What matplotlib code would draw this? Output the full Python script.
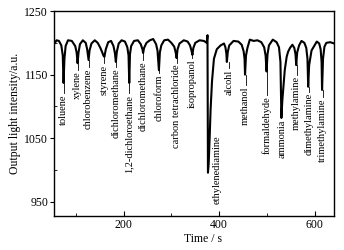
import matplotlib
matplotlib.use("Agg")
import matplotlib.pyplot as plt
from matplotlib.ticker import MultipleLocator

plt.rcParams['font.family'] = ['Liberation Serif', 'DejaVu Serif']

# sensor trace (time in s, intensity in a.u.)
time = [55, 60, 65, 70, 73, 74.7, 76.5, 79, 84, 92, 99, 102, 104, 106, 109, 115,
        121, 124, 127, 129, 133, 140, 146, 151, 155, 158, 160, 163, 168, 174, 179,
        182, 184, 186, 190, 196, 203, 208, 210.5, 212, 213.5, 216, 222, 230, 236,
        239.5, 241, 243, 248, 255, 262, 268, 271, 274, 276, 279, 285, 293, 300,
        306, 309, 311, 313, 317, 326, 334, 339, 342, 344, 346, 350, 359, 368, 374,
        375.5, 376.5, 378, 380, 382, 385, 389, 395, 403, 410, 413, 415, 416, 418,
        421, 430, 440, 447, 451, 453, 454, 456, 459, 464, 472, 480, 488, 494, 497,
        499, 501, 504, 512, 520, 525, 528, 530, 532, 537, 541, 544, 548, 553, 557,
        559.5, 561, 563, 567, 572, 578, 582, 584.5, 586, 588, 593, 600, 604, 609,
        612, 614, 615, 617, 620, 624, 632, 640]
intensity = [1198, 1204, 1203, 1196, 1180, 1137, 1175, 1195, 1204, 1203, 1195, 1185,
             1168, 1185, 1198, 1204, 1200, 1190, 1173, 1188, 1199, 1204, 1200, 1193,
             1186, 1180, 1178, 1190, 1201, 1203, 1195, 1184, 1170, 1186, 1199, 1204,
             1202, 1193, 1180, 1137, 1182, 1195, 1203, 1204, 1198, 1190, 1184, 1192,
             1200, 1204, 1206, 1198, 1188, 1157, 1185, 1196, 1204, 1205, 1200, 1194,
             1185, 1176, 1190, 1199, 1204, 1202, 1196, 1188, 1181, 1192, 1200, 1204,
             1203, 1200, 1212, 996, 1010, 1050, 1095, 1140, 1175, 1190, 1196, 1199,
             1193, 1183, 1170, 1186, 1196, 1203, 1202, 1197, 1187, 1175, 1150, 1180,
             1192, 1205, 1203, 1204, 1201, 1193, 1180, 1155, 1182, 1196, 1205, 1201,
             1193, 1170, 1082, 1110, 1157, 1178, 1186, 1192, 1197, 1192, 1182, 1165,
             1185, 1196, 1203, 1200, 1192, 1175, 1131, 1165, 1188, 1197, 1202, 1199,
             1190, 1170, 1126, 1175, 1194, 1200, 1201, 1199]

# analytes, where each label sits and where its leader starts
analytes = ["toluene", "xylene", "chlorobenzene", "styrene", "dichloromethane",
            "1,2-dichloroethane", "dichloromethane", "chloroform",
            "carbon tetrachloride", "isopropanol", "ethylenediamine", "alcohl",
            "methanol", "formaldehyde", "ammonia", "methylamine", "dimethylamine",
            "trimethylamine"]
label_time = [75, 104, 127, 160, 184, 212, 241, 274, 311, 344, 396, 420, 455, 500,
              531, 562, 587, 616]
dip_min = [1137, 1168, 1173, 1178, 1170, 1137, 1184, 1157, 1176, 1181, None, 1170,
           1150, 1155, 1082, 1165, 1131, 1126]
label_top = [1121, 1157, 1162, 1168, 1162, 1121, 1173, 1153, 1168, 1176, 1057, 1160,
             1134, 1118, 1082, 1150, 1123, 1115]

fig = plt.figure(figsize=(3.44, 2.5), dpi=100)
ax = fig.add_axes([0.156, 0.136, 0.815, 0.82])

ax.plot(time, intensity, color='black', linewidth=1.5)

for name, t, d, top in zip(analytes, label_time, dip_min, label_top):
    if d is not None and d > top:
        ax.plot([t, t], [d, top], color='black', linewidth=0.6)
    ax.annotate(name, xy=(t, top), xytext=(0, -1), textcoords='offset points',
                rotation=90, ha='center', va='top', fontsize=7.5)

ax.set_xlim(54, 640)
ax.set_ylim(928, 1250)
ax.xaxis.set_major_locator(MultipleLocator(200))
ax.xaxis.set_minor_locator(MultipleLocator(100))
ax.set_yticks([950, 1050, 1150, 1250])
ax.yaxis.set_minor_locator(MultipleLocator(50))
ax.tick_params(axis='x', which='both', direction='in', labelsize=8.5, pad=2)
ax.tick_params(axis='x', which='major', length=3.5)
ax.tick_params(axis='x', which='minor', length=2)
ax.tick_params(axis='y', which='major', direction='out', length=3, labelsize=8.5, pad=1)
ax.tick_params(axis='y', which='minor', direction='in', length=2)
for s in ax.spines.values():
    s.set_linewidth(1.0)

ax.set_xlabel("Time / s", fontsize=8.5, labelpad=1)
ax.xaxis.set_label_coords(0.533, -0.085)
ax.set_ylabel("Output light intensity/a.u.", fontsize=8.5, labelpad=2)

fig.savefig("out.png", dpi=100)
